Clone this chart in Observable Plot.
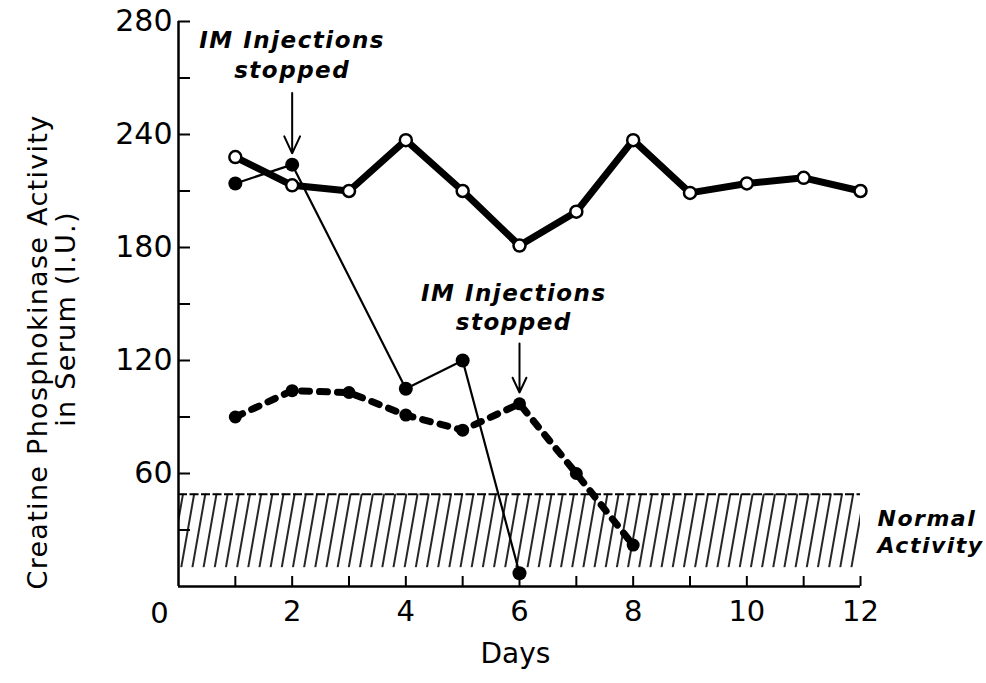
<!DOCTYPE html>
<html>
<head>
<meta charset="utf-8">
<script src="https://cdn.jsdelivr.net/npm/d3@7"></script>
<script src="https://cdn.jsdelivr.net/npm/@observablehq/plot@0.6"></script>
<style>
  html, body { margin: 0; padding: 0; background: #fff; }
  #chart { width: 986px; height: 683px; }
</style>
</head>
<body>
<div id="chart"></div>
<script>
// ---- data ----
const openDays   = [1, 2, 3, 4, 5, 6, 7, 8, 9, 10, 11, 12];
const openValues = [228, 213, 210, 237, 210, 181, 199, 237, 209, 214, 217, 210];

const thinDays   = [1, 2, 4, 5, 6];
const thinValues = [214, 224, 105, 120, 7];

const dashDays   = [1, 2, 3, 4, 5, 6, 7, 8];
const dashValues = [90, 104, 103, 91, 83, 97, 60, 22];

const normalLow  = 10;
const normalHigh = 49;

const yTicks      = [30, 60, 90, 120, 150, 180, 210, 240, 270, 300];
const yLabelTicks = [60, 120, 180, 240, 300];
const yLabelText  = ["60", "120", "180", "240", "280"];
const xTicks      = [1, 2, 3, 4, 5, 6, 7, 8, 9, 10, 11, 12];
const xLabelTicks = [2, 4, 6, 8, 10, 12];

const annotations = [
  {x: 2,   y: 283, text: "IM Injections\nstopped"},
  {x: 5.9, y: 149, text: "IM Injections\nstopped"}
];
const arrows = [
  {x: 2, y1: 262, y2: 230},
  {x: 6, y1: 129, y2: 103}
];

// ---- build ----
const open = openDays.map((d, i) => ({day: d, v: openValues[i]}));
const thin = thinDays.map((d, i) => ({day: d, v: thinValues[i]}));
const dash = dashDays.map((d, i) => ({day: d, v: dashValues[i]}));

const font = "DejaVu Sans";
const annoFont = "DejaVu Sans";

const svg = Plot.plot({
  width: 986,
  height: 683,
  marginLeft: 178,
  marginRight: 126,
  marginTop: 21,
  marginBottom: 97,
  style: {fontFamily: font, background: "white", color: "black"},
  x: {domain: [0, 12]},
  y: {domain: [0, 300]},
  marks: [
    // hatched normal band
    Plot.rect([{}], {x1: 0, x2: 12, y1: normalLow, y2: normalHigh, fill: "url(#hatch)"}),
    Plot.ruleY([normalHigh], {x1: 0, x2: 12, stroke: "black", strokeWidth: 2, strokeDasharray: "9,2.5"}),
    // axes lines
    Plot.ruleX([0], {y1: 0, y2: 300, stroke: "black", strokeWidth: 2.5}),
    Plot.ruleY([0], {x1: 0, x2: 12, stroke: "black", strokeWidth: 2.5}),
    // inward ticks
    Plot.axisY({ticks: yTicks, tickSize: -12, tickFormat: () => "", strokeWidth: 2}),
    Plot.axisX({ticks: xTicks, tickSize: -10, tickFormat: () => "", strokeWidth: 2, label: null}),
    // tick labels
    Plot.axisY({ticks: yLabelTicks, tickSize: 0, tickPadding: 6, fontSize: 30, label: null,
                tickFormat: d => yLabelText[yLabelTicks.indexOf(d)]}),
    Plot.axisX({ticks: xLabelTicks, tickSize: 0, tickPadding: 14, fontSize: 29, label: null}),
    Plot.text([0], {x: d => d, y: d => d, text: d => String(d), dx: -19, dy: 27, fontSize: 29}),
    // axis titles
    Plot.text(["Days"], {frameAnchor: "bottom", dy: 76, fontSize: 28, text: d => d, dx: -4}),
    Plot.text(["Creatine Phosphokinase Activity"], {frameAnchor: "left", textAnchor: "middle", rotate: -90,
                                                    dx: -140, dy: 48, fontSize: 27, text: d => d}),
    Plot.text(["in Serum (I.U.)"], {frameAnchor: "left", textAnchor: "middle", rotate: -90,
                                    dx: -112, dy: 15, fontSize: 27, text: d => d}),
    // dashed series
    Plot.line(dash, {x: "day", y: "v", stroke: "black", strokeWidth: 7, strokeDasharray: "8,10"}),
    Plot.dot(dash, {x: "day", y: "v", r: 6.5, fill: "black"}),
    // open circle series
    Plot.line(open, {x: "day", y: "v", stroke: "black", strokeWidth: 7}),
    // thin series
    Plot.line(thin, {x: "day", y: "v", stroke: "black", strokeWidth: 2.2}),
    Plot.dot(thin, {x: "day", y: "v", r: 7, fill: "black"}),
    Plot.dot(open, {x: "day", y: "v", r: 6, fill: "white", stroke: "black", strokeWidth: 2.5}),
    // annotations
    Plot.text(annotations, {x: "x", y: "y", text: "text", fontSize: 23, fontWeight: "bold",
                            fontStyle: "italic", fontFamily: annoFont, lineHeight: 1.3}),
    Plot.arrow(arrows, {x: "x", y1: "y1", y2: "y2", stroke: "black", strokeWidth: 2,
                        headLength: 14, headAngle: 50}),
    Plot.text(["Normal\nActivity"], {x: 12, y: (normalLow + normalHigh) / 2, dx: 17, text: d => d,
                                     textAnchor: "start", fontSize: 22, fontWeight: "bold",
                                     fontStyle: "italic", fontFamily: annoFont, lineHeight: 1.2})
  ]
});

const defs = d3.select(svg).insert("defs", ":first-child");
const pat = defs.append("pattern")
  .attr("id", "hatch")
  .attr("patternUnits", "userSpaceOnUse")
  .attr("width", 11).attr("height", 11)
  .attr("patternTransform", "rotate(10)");
pat.append("line").attr("x1", 2).attr("y1", 0).attr("x2", 2).attr("y2", 11)
  .attr("stroke", "black").attr("stroke-width", 1.7);

const root = d3.select(svg);
// wider letter spacing on the italic annotations, as in the reference
root.selectAll("g[font-style=italic]").attr("letter-spacing", "1.5px");
// wider spacing on the rotated y title
root.selectAll("text").filter(function () {
  return /Creatine|Serum/.test(this.textContent);
}).attr("letter-spacing", "1.3px");

document.getElementById("chart").appendChild(svg);
</script>
</body>
</html>
